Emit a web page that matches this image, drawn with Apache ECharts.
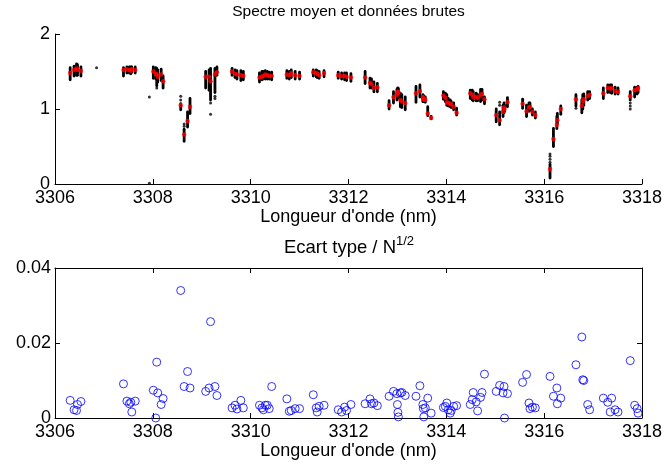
<!DOCTYPE html>
<html>
<head>
<meta charset="utf-8">
<script src="https://cdn.jsdelivr.net/npm/echarts@6/dist/echarts.min.js"></script>
<style>
  html, body { margin: 0; padding: 0; background: #fff; }
  #chart { width: 665px; height: 469px; }
</style>
</head>
<body>
<div id="chart"></div>
<script>
// Wavelength of each sampled point (nm)
const wavelength = [
  3306.31, 3306.39, 3306.44, 3306.46, 3306.53,
  3307.40, 3307.47, 3307.52, 3307.55, 3307.57, 3307.64,
  3308.01, 3308.06, 3308.08, 3308.10, 3308.17, 3308.21,
  3308.57, 3308.64, 3308.71, 3308.76,
  3309.08, 3309.15, 3309.18, 3309.27, 3309.31,
  3309.62, 3309.68, 3309.72, 3309.80, 3309.85,
  3310.18, 3310.23, 3310.26, 3310.30, 3310.34, 3310.38, 3310.43,
  3310.74, 3310.79, 3310.83, 3310.91, 3311.00,
  3311.28, 3311.34, 3311.36, 3311.40, 3311.50,
  3311.79, 3311.86, 3311.92, 3311.96, 3312.05,
  3312.34, 3312.44, 3312.47, 3312.52, 3312.59,
  3312.83, 3312.92, 3312.99, 3313.00, 3313.01, 3313.02, 3313.06, 3313.09, 3313.16,
  3313.38, 3313.46, 3313.52, 3313.53, 3313.54, 3313.57, 3313.62, 3313.69,
  3313.94, 3313.98, 3314.01, 3314.04, 3314.08, 3314.10, 3314.15, 3314.21,
  3314.49, 3314.53, 3314.55, 3314.61, 3314.64, 3314.70, 3314.73, 3314.78,
  3315.02, 3315.09, 3315.16, 3315.18, 3315.19, 3315.25,
  3315.56, 3315.64, 3315.69, 3315.71, 3315.76, 3315.82,
  3316.12, 3316.19, 3316.26, 3316.27, 3316.34,
  3316.65, 3316.77, 3316.79, 3316.81, 3316.89, 3316.93,
  3317.21, 3317.30, 3317.35, 3317.38, 3317.45, 3317.51,
  3317.76, 3317.85, 3317.90, 3317.92
];

// Mean spectrum at each wavelength
const meanSpectrum = [
  1.48, 1.52, 1.54, 1.52, 1.51,
  1.52, 1.53, 1.52, 1.51, 1.53, 1.52,
  1.50, 1.47, 1.46, 1.43, 1.46, 1.37,
  1.05, 0.66, 0.84, 1.03,
  1.43, 1.43, 1.37, 1.46, 1.49,
  1.50, 1.47, 1.46, 1.45, 1.44,
  1.42, 1.43, 1.44, 1.46, 1.45, 1.44, 1.44,
  1.46, 1.45, 1.48, 1.45, 1.44,
  1.49, 1.48, 1.47, 1.45, 1.48,
  1.45, 1.44, 1.44, 1.43, 1.42,
  1.42, 1.35, 1.33, 1.28, 1.29,
  1.05, 1.16, 1.19, 1.21, 1.23, 1.22, 1.12, 1.10, 1.08,
  1.21, 1.24, 1.16, 1.14, 1.13, 1.12, 0.94, 0.88,
  1.18, 1.15, 1.09, 1.08, 1.07, 1.06, 1.03, 0.95,
  1.21, 1.19, 1.16, 1.16, 1.15, 1.18, 1.20, 1.13,
  0.92, 0.85, 0.96, 1.02, 1.00, 1.09,
  1.07, 0.97, 1.02, 1.03, 0.96, 0.92,
  0.20, 0.60, 0.79, 0.85, 1.00,
  1.13, 1.04, 1.10, 1.13, 1.17, 1.19,
  1.21, 1.28, 1.27, 1.28, 1.24, 1.23,
  1.17, 1.25, 1.26, 1.28
];

// Standard deviation divided by sqrt(N)
const stdOverRootN = [
  0.0047, 0.0022, 0.0020, 0.0036, 0.0044,
  0.0091, 0.0045, 0.0038, 0.0042, 0.0016, 0.0045,
  0.0074, 0.0000, 0.0149, 0.0067, 0.0036, 0.0052,
  0.0340, 0.0084, 0.0124, 0.0080,
  0.0071, 0.0080, 0.0257, 0.0084, 0.0060,
  0.0027, 0.0034, 0.0024, 0.0047, 0.0027,
  0.0034, 0.0027, 0.0022, 0.0034, 0.0034, 0.0025, 0.0084,
  0.0051, 0.0018, 0.0020, 0.0025, 0.0025,
  0.0062, 0.0027, 0.0016, 0.0031, 0.0034,
  0.0022, 0.0016, 0.0029, 0.0020, 0.0036,
  0.0038, 0.0051, 0.0038, 0.0040, 0.0033,
  0.0058, 0.0071, 0.0065, 0.0036, 0.0015, 0.0003, 0.0067, 0.0068, 0.0060,
  0.0058, 0.0086, 0.0036, 0.0025, 0.0003, 0.0027, 0.0053, 0.0013,
  0.0028, 0.0031, 0.0040, 0.0022, 0.0013, 0.0020, 0.0031, 0.0033,
  0.0036, 0.0049, 0.0068, 0.0043, 0.0019, 0.0055, 0.0068, 0.0117,
  0.0071, 0.0087, 0.0067, 0.0084, 0.0000, 0.0065,
  0.0095, 0.0116, 0.0040, 0.0025, 0.0029, 0.0027,
  0.0111, 0.0058, 0.0080, 0.0038, 0.0053,
  0.0142, 0.0216, 0.0102, 0.0100, 0.0036, 0.0022,
  0.0053, 0.0042, 0.0016, 0.0053, 0.0022, 0.0016,
  0.0153, 0.0034, 0.0025, 0.0013
];

// Lowest and highest raw spectra values at each wavelength
const rawLow = [
  1.39, 1.44, 1.45, 1.45, 1.44,
  1.44, 1.48, 1.48, 1.47, 1.49, 1.48,
  1.41, 1.40, 1.31, 1.36, 1.38, 1.28,
  0.99, 0.57, 0.76, 0.94,
  1.28, 1.25, 1.12, 1.22, 1.45,
  1.45, 1.42, 1.40, 1.38, 1.39,
  1.36, 1.39, 1.40, 1.40, 1.40, 1.40, 1.39,
  1.41, 1.40, 1.42, 1.40, 1.40,
  1.44, 1.43, 1.42, 1.41, 1.43,
  1.41, 1.40, 1.39, 1.38, 1.37,
  1.34, 1.28, 1.28, 1.23, 1.23,
  1.00, 1.08, 1.12, 1.14, 1.16, 1.15, 1.03, 1.02, 0.99,
  1.09, 1.16, 1.10, 1.10, 1.10, 1.09, 0.91, 0.87,
  1.13, 1.10, 1.05, 1.04, 1.03, 1.02, 0.99, 0.92,
  1.14, 1.12, 1.11, 1.11, 1.11, 1.10, 1.12, 1.07,
  0.83, 0.79, 0.90, 0.95, 0.97, 1.03,
  1.01, 0.90, 0.97, 0.98, 0.92, 0.88,
  0.08, 0.50, 0.74, 0.81, 0.93,
  1.04, 0.95, 1.00, 1.05, 1.12, 1.14,
  1.14, 1.22, 1.22, 1.21, 1.20, 1.20,
  1.12, 1.16, 1.20, 1.22
];
const rawHigh = [
  1.55, 1.57, 1.60, 1.59, 1.56,
  1.55, 1.56, 1.56, 1.56, 1.56, 1.56,
  1.56, 1.55, 1.54, 1.52, 1.53, 1.44,
  1.07, 0.73, 0.96, 1.14,
  1.50, 1.52, 1.54, 1.54, 1.56,
  1.54, 1.52, 1.51, 1.51, 1.50,
  1.48, 1.50, 1.50, 1.51, 1.50, 1.49, 1.49,
  1.51, 1.50, 1.52, 1.50, 1.49,
  1.52, 1.52, 1.51, 1.50, 1.51,
  1.49, 1.48, 1.48, 1.48, 1.47,
  1.50, 1.41, 1.40, 1.36, 1.34,
  1.11, 1.23, 1.26, 1.27, 1.28, 1.27, 1.21, 1.19, 1.16,
  1.30, 1.32, 1.19, 1.18, 1.17, 1.16, 1.03, 0.90,
  1.23, 1.21, 1.19, 1.14, 1.12, 1.10, 1.08, 1.01,
  1.25, 1.25, 1.23, 1.21, 1.19, 1.26, 1.26, 1.16,
  1.00, 0.96, 1.05, 1.08, 1.05, 1.15,
  1.13, 1.05, 1.08, 1.08, 1.00, 0.96,
  0.26, 0.74, 0.90, 0.94, 1.04,
  1.19, 1.12, 1.19, 1.20, 1.23, 1.23,
  1.28, 1.32, 1.32, 1.32, 1.29, 1.28,
  1.23, 1.29, 1.29, 1.30
];

// Raw values lying apart from the main clusters
const rawIsolated = [
  [3306.85, 1.55],
  [3307.93, 0.01], [3307.93, 1.16],
  [3308.08, 1.28],
  [3308.57, 1.17], [3308.57, 1.12],
  [3308.64, 0.80], [3308.64, 0.77],
  [3309.18, 1.08], [3309.18, 0.93],
  [3309.27, 1.17], [3309.27, 1.14],
  [3315.09, 1.09], [3315.09, 1.05],
  [3316.12, 0.29], [3316.12, 0.33], [3316.12, 0.37], [3316.12, 0.40],
  [3316.65, 1.01],
  [3317.76, 1.08], [3317.76, 1.04], [3317.76, 1.00]
];

// Axis ticks
const xTicks = { min: 3306, max: 3318, step: 2 };
const specTicks = { min: 0, max: 2, step: 1 };
const stdTicks = { min: 0, max: 0.04, step: 0.02 };

const FONT = '"Liberation Sans", Arial, Helvetica, sans-serif';
const BLACK = '#000';

function xAxisBase(gridIndex) {
  return {
    gridIndex: gridIndex,
    type: 'value',
    min: xTicks.min, max: xTicks.max, interval: xTicks.step,
    axisLine: { show: true, onZero: false, lineStyle: { color: BLACK, width: 1 } },
    axisTick: { show: true, inside: true, length: 5, lineStyle: { color: BLACK } },
    axisLabel: {
      show: true, color: BLACK, fontSize: 18, fontFamily: FONT, margin: 5,
      formatter: v => String(v)
    },
    splitLine: { show: false },
    name: "Longueur d'onde (nm)",
    nameLocation: 'middle',
    nameGap: 22,
    nameTextStyle: { color: BLACK, fontSize: 18, fontFamily: FONT }
  };
}

const chart = echarts.init(document.getElementById('chart'), null, { renderer: 'canvas' });

const option = {
  animation: false,
  backgroundColor: '#fff',
  graphic: [
    {
      type: 'text', x: 348.5, y: 4,
      style: {
        text: 'Spectre moyen et données brutes',
        font: '15.5px ' + FONT, fill: BLACK, align: 'center', verticalAlign: 'top'
      }
    },
    {
      type: 'text', x: 349, y: 235,
      style: {
        text: '{n|Ecart type / N}{s|1/2}',
        align: 'center', verticalAlign: 'top',
        rich: {
          n: { fontSize: 18.5, fontFamily: FONT, color: BLACK, lineHeight: 22, verticalAlign: 'bottom' },
          s: { fontSize: 13, fontFamily: FONT, color: BLACK, lineHeight: 22, verticalAlign: 'top' }
        }
      }
    }
  ],
  grid: [
    { left: 55, top: 34, width: 587, height: 150 },
    { left: 55, top: 268, width: 587, height: 150 }
  ],
  xAxis: [
    xAxisBase(0),
    xAxisBase(1),
    Object.assign(xAxisBase(1), {
      position: 'top', name: '',
      axisLabel: { show: false }
    })
  ],
  yAxis: [
    {
      gridIndex: 0, type: 'value',
      min: specTicks.min, max: specTicks.max, interval: specTicks.step,
      axisLine: { show: true, onZero: false, lineStyle: { color: BLACK, width: 1 } },
      axisTick: { show: true, inside: true, length: 5, lineStyle: { color: BLACK } },
      axisLabel: { color: BLACK, fontSize: 18, fontFamily: FONT, margin: 5 },
      splitLine: { show: false }
    },
    {
      gridIndex: 1, type: 'value',
      min: stdTicks.min, max: stdTicks.max, interval: stdTicks.step,
      axisLine: { show: true, onZero: false, lineStyle: { color: BLACK, width: 1 } },
      axisTick: { show: true, inside: true, length: 5, lineStyle: { color: BLACK } },
      axisLabel: {
        color: BLACK, fontSize: 18, fontFamily: FONT, margin: 4,
        formatter: v => (v === 0 ? '0' : v.toFixed(2))
      },
      splitLine: { show: false }
    },
    {
      gridIndex: 1, type: 'value', position: 'right',
      min: stdTicks.min, max: stdTicks.max, interval: stdTicks.step,
      axisLine: { show: true, onZero: false, lineStyle: { color: BLACK, width: 1 } },
      axisTick: { show: true, inside: true, length: 5, lineStyle: { color: BLACK } },
      axisLabel: { show: false },
      splitLine: { show: false }
    }
  ],
  series: [
    {
      // spread of the raw spectra at each wavelength
      type: 'custom',
      xAxisIndex: 0, yAxisIndex: 0,
      encode: { x: 0, y: [1, 2] },
      data: wavelength.map((w, i) => [w, rawLow[i], rawHigh[i]]),
      renderItem: function (params, api) {
        const p1 = api.coord([api.value(0), api.value(1)]);
        const p2 = api.coord([api.value(0), api.value(2)]);
        return {
          type: 'line',
          shape: { x1: p1[0], y1: p1[1], x2: p2[0], y2: p2[1] },
          style: { stroke: BLACK, lineWidth: 2.8, lineCap: 'round' }
        };
      },
      silent: true
    },
    {
      type: 'scatter',
      xAxisIndex: 0, yAxisIndex: 0,
      data: rawIsolated,
      symbol: 'circle', symbolSize: 3,
      itemStyle: { color: BLACK },
      silent: true
    },
    {
      type: 'scatter',
      xAxisIndex: 0, yAxisIndex: 0,
      data: wavelength.map((w, i) => [w, meanSpectrum[i]]),
      symbol: 'circle', symbolSize: 4.5,
      itemStyle: { color: '#ff0000' },
      silent: true
    },
    {
      type: 'scatter',
      xAxisIndex: 1, yAxisIndex: 1,
      data: wavelength.map((w, i) => [w, stdOverRootN[i]]),
      symbol: 'circle', symbolSize: 8,
      clip: false,
      itemStyle: { color: 'rgba(0,0,0,0)', borderColor: '#0000ff', borderWidth: 1 },
      silent: true
    }
  ]
};

chart.setOption(option);
</script>
</body>
</html>
